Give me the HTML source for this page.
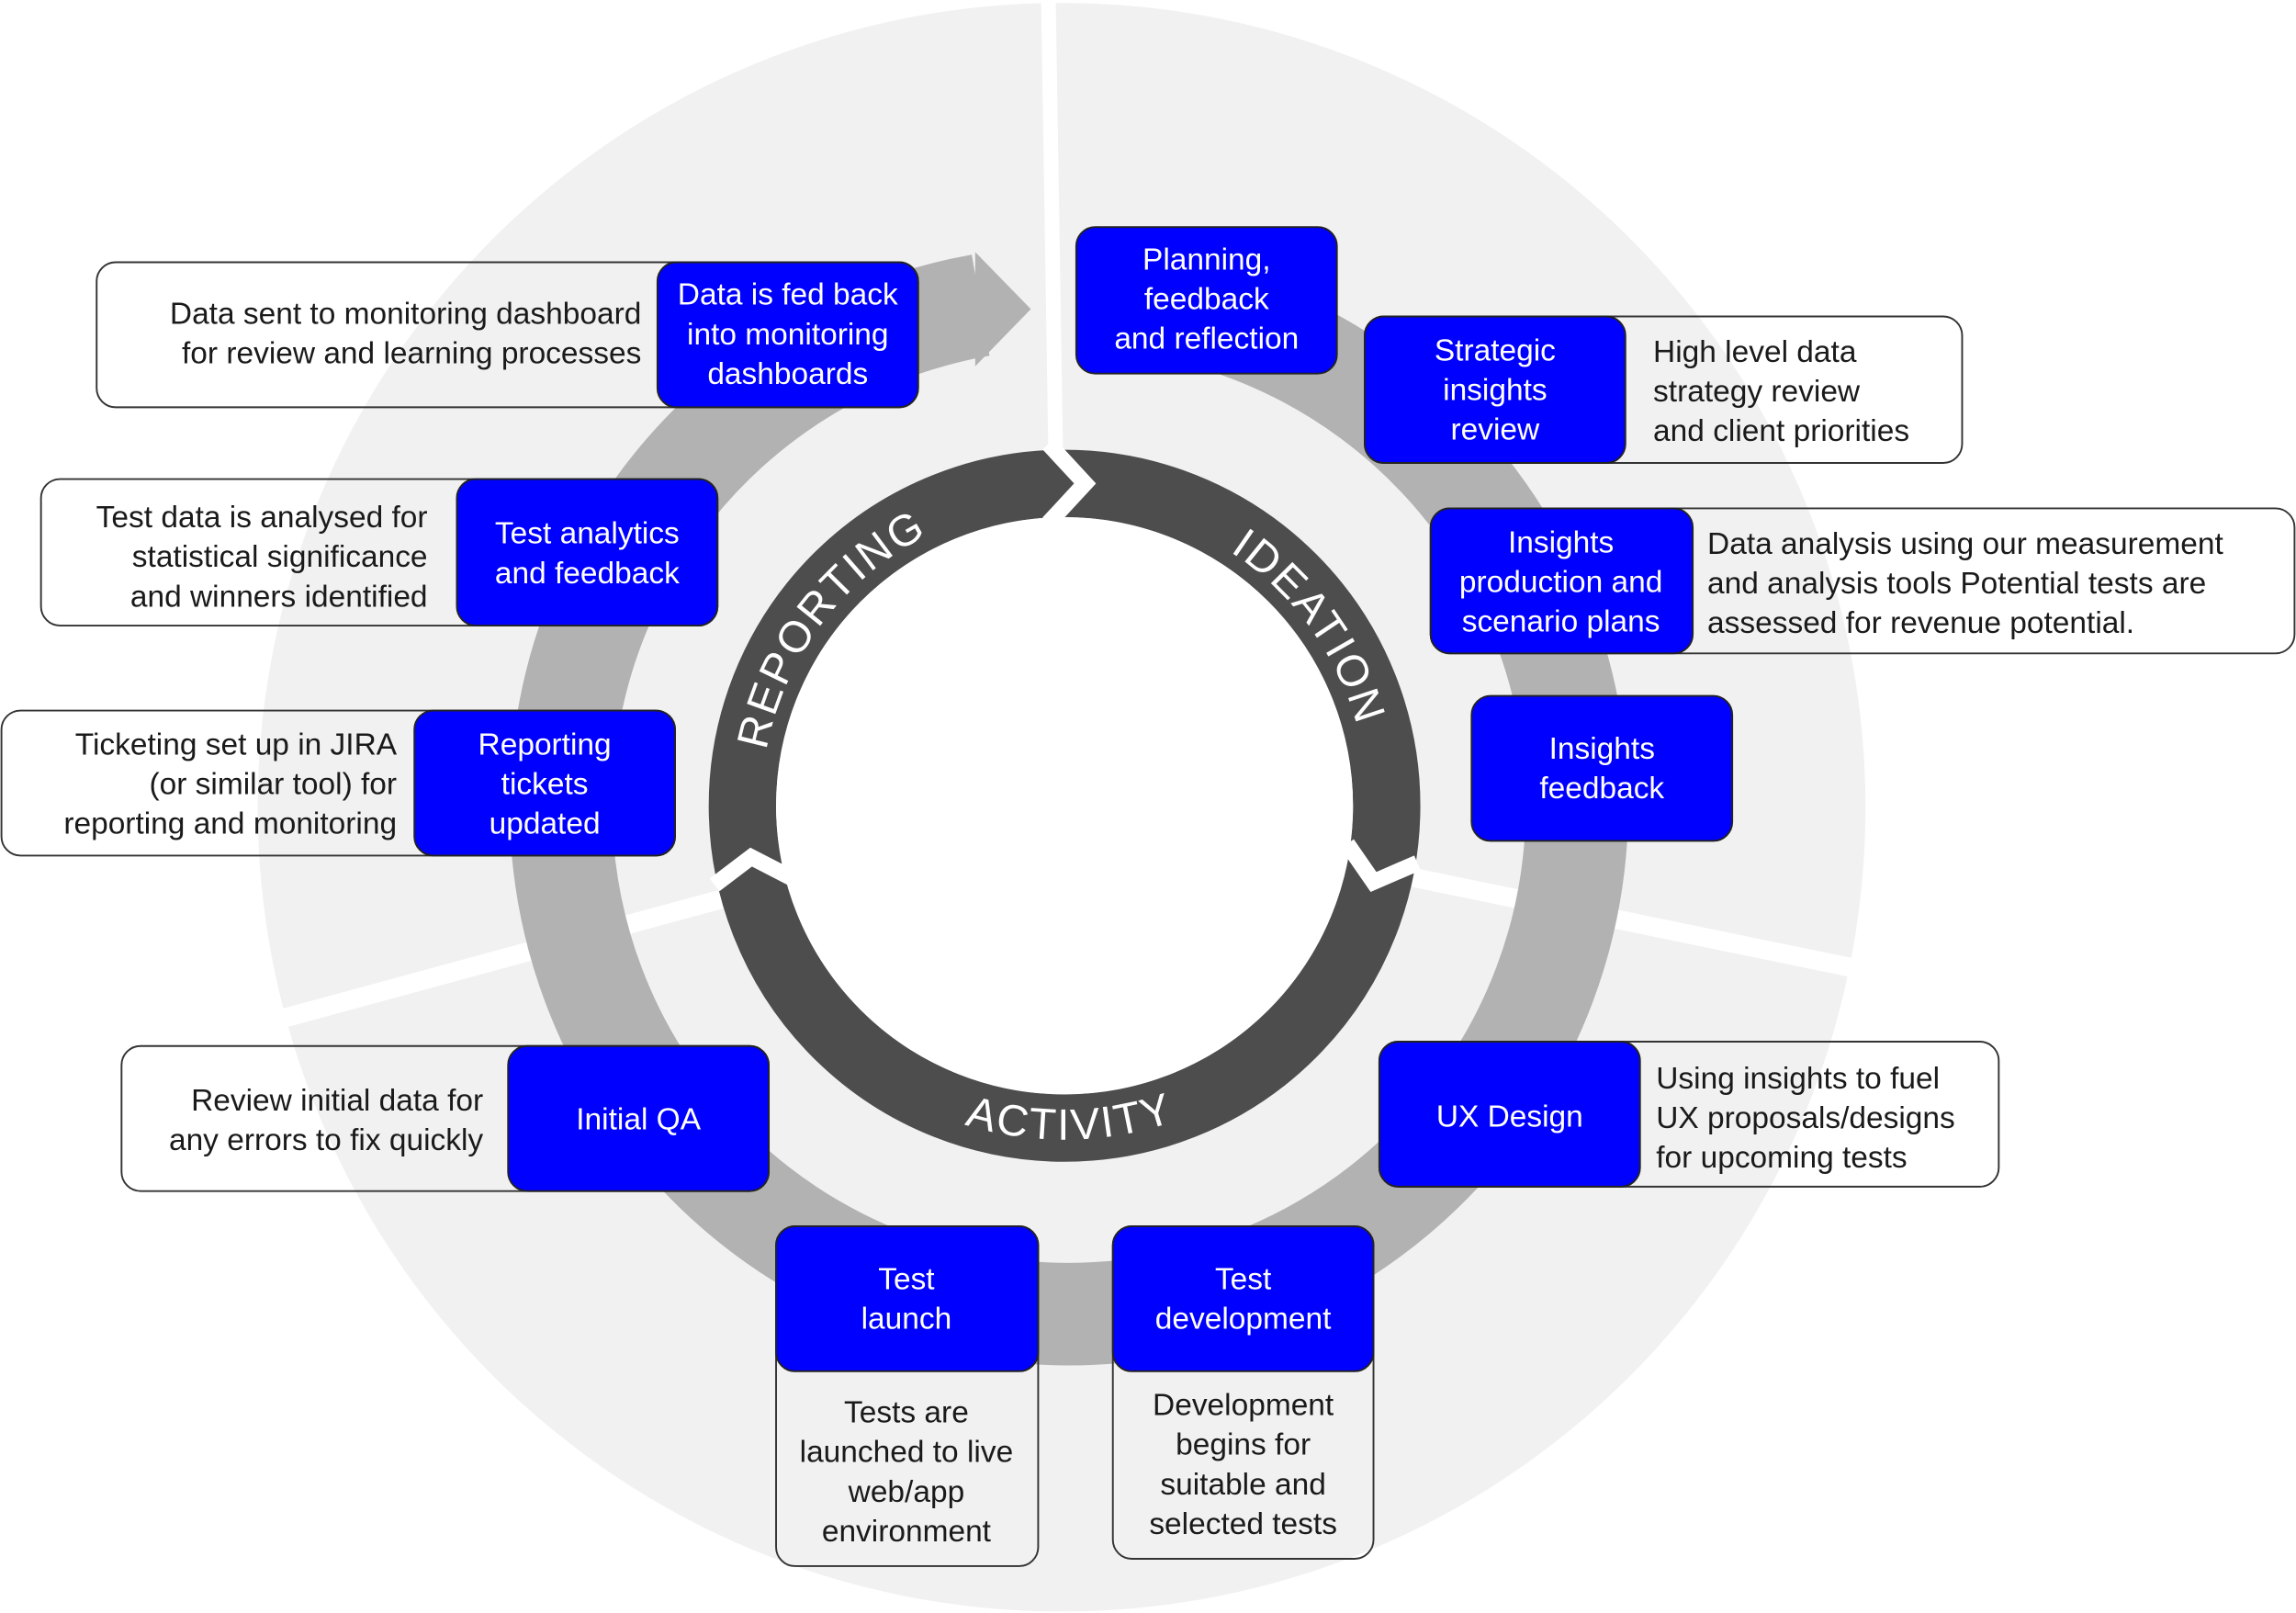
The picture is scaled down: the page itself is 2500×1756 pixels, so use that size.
<!DOCTYPE html>
<html><head><meta charset="utf-8"><style>
html,body{margin:0;padding:0;background:#fff;}
svg{display:block;}
text{font-family:"Liberation Sans",sans-serif;}
.bt{fill:#fff;font-size:21px;text-anchor:middle;}
.dt{fill:#1a1a1a;font-size:21px;}
.blue{fill:#0000ff;stroke:#222;stroke-width:1.2;}
.ol{fill:none;stroke:#333;stroke-width:1.2;}
.ring{fill:#fff;font-size:30px;letter-spacing:1.5px;}
</style></head><body>
<svg width="2500" height="1756" viewBox="0 0 1568 1101" preserveAspectRatio="none" xmlns="http://www.w3.org/2000/svg">
<rect width="1568" height="1101" fill="#fff"/>
<!-- outer light circle -->
<circle cx="725" cy="551" r="549" fill="#f1f1f1"/>
<!-- outer gaps -->
<line x1="716" y1="0" x2="721" y2="312" stroke="#fff" stroke-width="10"/>
<line x1="727" y1="550" x2="190" y2="696" stroke="#fff" stroke-width="13"/>
<line x1="727" y1="550" x2="1272" y2="662" stroke="#fff" stroke-width="13"/>
<!-- medium ring -->
<path d="M790.3,208.3 A347,347 0 1 1 669.7,208.3" fill="none" stroke="#b2b2b2" stroke-width="70"/>
<polygon points="666,172 704,211 666,250" fill="#b2b2b2"/>
<!-- white inner area -->
<circle cx="727" cy="550" r="243" fill="#f1f1f1"/>
<circle cx="727" cy="550" r="220" fill="none" stroke="#4d4d4d" stroke-width="46"/>
<circle cx="727" cy="550" r="197" fill="#fff"/>
<!-- chevron gaps -->
<polyline points="716,303 741,330 716,357" fill="none" stroke="#fff" stroke-width="11"/>
<polyline points="920,576 938,602 968,589" fill="none" stroke="#fff" stroke-width="11"/>
<polyline points="488,604 513,585 544,601" fill="none" stroke="#fff" stroke-width="11"/>
<defs>
<path id="pR" d="M536.5,631 A207,207 0 0 1 752.2,344.5"/>
<path id="pI" d="M705.4,344.1 A207,207 0 0 1 916.1,634.2"/>
<path id="pA" d="M531.6,667.4 A228,228 0 0 0 926.4,660.5"/>
</defs>
<text class="ring"><textPath href="#pR" startOffset="50%" text-anchor="middle">REPORTING</textPath></text>
<text class="ring"><textPath href="#pI" startOffset="50%" text-anchor="middle">IDEATION</textPath></text>
<text class="ring"><textPath href="#pA" startOffset="50%" text-anchor="middle">ACTIVITY</textPath></text>

<!-- Planning -->
<rect class="blue" x="735" y="155" width="178" height="100" rx="13"/>
<text class="bt" x="824" y="184">Planning,</text>
<text class="bt" x="824" y="211">feedback</text>
<text class="bt" x="824" y="238">and reflection</text>

<!-- Strategic -->
<rect class="ol" x="932" y="216" width="408" height="100" rx="13"/>
<rect class="blue" x="932" y="216" width="178" height="100" rx="13"/>
<text class="bt" x="1021" y="246">Strategic</text>
<text class="bt" x="1021" y="273">insights</text>
<text class="bt" x="1021" y="300">review</text>
<text class="dt" x="1129" y="247">High level data</text>
<text class="dt" x="1129" y="274">strategy review</text>
<text class="dt" x="1129" y="301">and client priorities</text>

<!-- Insights production -->
<rect class="ol" x="977" y="347" width="590" height="99" rx="13"/>
<rect class="blue" x="977" y="347" width="179" height="99" rx="13"/>
<text class="bt" x="1066" y="377">Insights</text>
<text class="bt" x="1066" y="404">production and</text>
<text class="bt" x="1066" y="431">scenario plans</text>
<text class="dt" x="1166" y="378">Data analysis using our measurement</text>
<text class="dt" x="1166" y="405">and analysis tools Potential tests are</text>
<text class="dt" x="1166" y="432">assessed for revenue potential.</text>

<!-- Insights feedback -->
<rect class="blue" x="1005" y="475" width="178" height="99" rx="13"/>
<text class="bt" x="1094" y="518">Insights</text>
<text class="bt" x="1094" y="545">feedback</text>

<!-- UX Design -->
<rect class="ol" x="942" y="711" width="423" height="99" rx="13"/>
<rect class="blue" x="942" y="711" width="178" height="99" rx="13"/>
<text class="bt" x="1031" y="769">UX Design</text>
<text class="dt" x="1131" y="743">Using insights to fuel</text>
<text class="dt" x="1131" y="770">UX proposals/designs</text>
<text class="dt" x="1131" y="797">for upcoming tests</text>

<!-- Test development -->
<rect class="ol" x="760" y="837" width="178" height="227" rx="13"/>
<rect class="blue" x="760" y="837" width="178" height="99" rx="13"/>
<text class="bt" x="849" y="880">Test</text>
<text class="bt" x="849" y="907">development</text>
<text class="dt" x="849" y="966" text-anchor="middle">Development</text>
<text class="dt" x="849" y="993" text-anchor="middle">begins for</text>
<text class="dt" x="849" y="1020" text-anchor="middle">suitable and</text>
<text class="dt" x="849" y="1047" text-anchor="middle">selected tests</text>

<!-- Test launch -->
<rect class="ol" x="530" y="837" width="179" height="232" rx="13"/>
<rect class="blue" x="530" y="837" width="179" height="99" rx="13"/>
<text class="bt" x="619" y="880">Test</text>
<text class="bt" x="619" y="907">launch</text>
<text class="dt" x="619" y="971" text-anchor="middle">Tests are</text>
<text class="dt" x="619" y="998" text-anchor="middle">launched to live</text>
<text class="dt" x="619" y="1025" text-anchor="middle">web/app</text>
<text class="dt" x="619" y="1052" text-anchor="middle">environment</text>

<!-- Initial QA -->
<rect class="ol" x="83" y="714" width="442" height="99" rx="13"/>
<rect class="blue" x="347" y="714" width="178" height="99" rx="13"/>
<text class="bt" x="436" y="771">Initial QA</text>
<text class="dt" x="330" y="758" text-anchor="end">Review initial data for</text>
<text class="dt" x="330" y="785" text-anchor="end">any errors to fix quickly</text>

<!-- Reporting tickets -->
<rect class="ol" x="1" y="485" width="460" height="99" rx="13"/>
<rect class="blue" x="283" y="485" width="178" height="99" rx="13"/>
<text class="bt" x="372" y="515">Reporting</text>
<text class="bt" x="372" y="542">tickets</text>
<text class="bt" x="372" y="569">updated</text>
<text class="dt" x="271" y="515" text-anchor="end">Ticketing set up in JIRA</text>
<text class="dt" x="271" y="542" text-anchor="end">(or similar tool) for</text>
<text class="dt" x="271" y="569" text-anchor="end">reporting and monitoring</text>

<!-- Test analytics -->
<rect class="ol" x="28" y="327" width="462" height="100" rx="13"/>
<rect class="blue" x="312" y="327" width="178" height="100" rx="13"/>
<text class="bt" x="401" y="371">Test analytics</text>
<text class="bt" x="401" y="398">and feedback</text>
<text class="dt" x="292" y="360" text-anchor="end">Test data is analysed for</text>
<text class="dt" x="292" y="387" text-anchor="end">statistical significance</text>
<text class="dt" x="292" y="414" text-anchor="end">and winners identified</text>

<!-- Data fed back -->
<rect class="ol" x="66" y="179" width="561" height="99" rx="13"/>
<rect class="blue" x="449" y="179" width="178" height="99" rx="13"/>
<text class="bt" x="538" y="208">Data is fed back</text>
<text class="bt" x="538" y="235">into monitoring</text>
<text class="bt" x="538" y="262">dashboards</text>
<text class="dt" x="438" y="221" text-anchor="end">Data sent to monitoring dashboard</text>
<text class="dt" x="438" y="248" text-anchor="end">for review and learning processes</text>
</svg>
</body></html>
